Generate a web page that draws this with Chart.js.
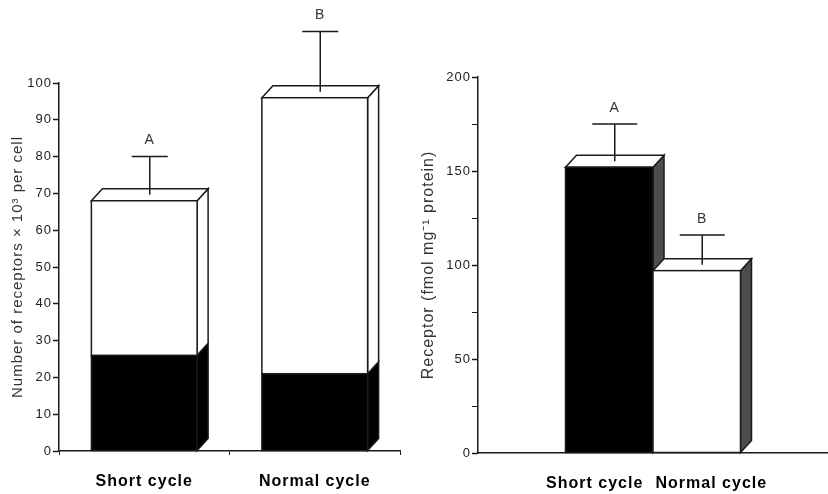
<!DOCTYPE html>
<html lang="en">
<head>
    <meta charset="UTF-8">
    <title>Receptors: short vs normal cycle</title>
    <script src="https://cdn.jsdelivr.net/npm/chart.js"></script>
    <style>
        body {
            margin: 0;
            background: #fff;
        }
        .panel {
            position: absolute;
            top: 0;
        }
        #left { left: 0; }
        #right { left: 410px; }
    </style>
</head>
<body>
    <canvas id="left" class="panel" width="410" height="494"></canvas>
    <canvas id="right" class="panel" width="418" height="494"></canvas>

    <script>
        // Left panel: receptors per cell (stacked, black part + white part)
        const leftCategories = ['Short cycle', 'Normal cycle'];
        const leftBlack = [26, 21];
        const leftWhite = [42, 75];
        const leftError = [80, 114];
        const leftLetters = ['A', 'B'];
        const leftTicks = [0, 5, 10, 15, 20, 25, 30, 35, 40, 45, 50, 55, 60, 65, 70, 75, 80, 85, 90, 95, 100];
        const leftTickLabels = [0, 10, 20, 30, 40, 50, 60, 70, 80, 90, 100];

        // Right panel: receptor concentration
        const rightCategories = ['Short cycle', 'Normal cycle'];
        const rightValues = [152, 97];
        const rightError = [175, 116];
        const rightLetters = ['A', 'B'];
        const rightTicks = [0, 25, 50, 75, 100, 125, 150, 175, 200];
        const rightTickLabels = [0, 50, 100, 150, 200];

        const FONT = "'Liberation Sans', Arial, sans-serif";
        const INK = '#1a1a1a';
        const DX = 11, DY = 12;   // depth of the 3D boxes

        function poly(ctx, pts, fill) {
            ctx.beginPath();
            ctx.moveTo(pts[0][0], pts[0][1]);
            for (let k = 1; k < pts.length; k++) ctx.lineTo(pts[k][0], pts[k][1]);
            ctx.closePath();
            ctx.fillStyle = fill;
            ctx.fill();
            ctx.stroke();
        }

        // draws side + top faces, then the error bar and letter
        const box3d = {
            id: 'box3d',
            beforeLayout(chart) { chart.ctx.letterSpacing = '1px'; },
            beforeDraw(chart) { chart.ctx.letterSpacing = '1px'; },
            afterDatasetsDraw(chart, args, o) {
                const ctx = chart.ctx;
                const yScale = chart.scales.y;
                ctx.save();
                ctx.lineWidth = 1.5;
                ctx.strokeStyle = INK;
                ctx.lineJoin = 'miter';
                chart.data.labels.forEach((lab, j) => {
                    const segs = [];
                    chart.data.datasets.forEach((ds, i) => {
                        if (ds.data[j] == null) return;
                        const el = chart.getDatasetMeta(i).data[j];
                        const p = el.getProps(['x', 'y', 'base', 'width'], true);
                        const fill = Array.isArray(ds.backgroundColor) ? ds.backgroundColor[j] : ds.backgroundColor;
                        segs.push({
                            l: p.x - p.width / 2, r: p.x + p.width / 2,
                            t: Math.min(p.y, p.base), b: Math.max(p.y, p.base),
                            fill: fill, side: o.side === 'same' ? fill : o.side
                        });
                    });
                    if (!segs.length) return;
                    segs.forEach(s => poly(ctx, [[s.r, s.b], [s.r + DX, s.b - DY], [s.r + DX, s.t - DY], [s.r, s.t]], s.side));
                    const top = segs[segs.length - 1];
                    poly(ctx, [[top.l, top.t], [top.l + DX, top.t - DY], [top.r + DX, top.t - DY], [top.r, top.t]], '#fff');
                    segs.forEach(s => {
                        ctx.fillStyle = s.fill;
                        ctx.fillRect(s.l, s.t, s.r - s.l, s.b - s.t);
                        ctx.strokeRect(s.l, s.t, s.r - s.l, s.b - s.t);
                    });
                    const err = o.error[j];
                    if (err == null) return;
                    const cx = (top.l + top.r) / 2 + DX / 2;
                    const ey = yScale.getPixelForValue(err);
                    ctx.beginPath();
                    ctx.moveTo(cx, top.t - DY / 2);
                    ctx.lineTo(cx, ey);
                    ctx.moveTo(cx - o.cap / 2, ey);
                    ctx.lineTo(cx + o.cap / 2, ey);
                    ctx.stroke();
                    ctx.fillStyle = '#333';
                    ctx.font = '14px ' + FONT;
                    ctx.textAlign = 'center';
                    ctx.textBaseline = 'middle';
                    ctx.fillText(o.letters[j], cx, ey - 16);
                });
                ctx.restore();
            }
        };

        function yAxis(max, ticks, labels, title, width, titleSize) {
            return {
                min: 0,
                max: max,
                stacked: true,
                afterFit: s => { s.width = width; },
                afterBuildTicks: s => { s.ticks = ticks.map(v => ({ value: v })); },
                border: { color: INK, width: 1.5 },
                grid: {
                    drawOnChartArea: false,
                    tickLength: 6,
                    tickColor: INK,
                    tickWidth: c => (c.tick && labels.includes(c.tick.value)) ? 1.5 : 1
                },
                ticks: {
                    color: '#222',
                    padding: 1,
                    font: { family: FONT, size: 13 },
                    callback: v => labels.includes(v) ? String(v) : ''
                },
                title: {
                    display: true,
                    text: title,
                    color: '#333',
                    padding: { top: 9, bottom: 0 },
                    font: { family: FONT, size: titleSize }
                }
            };
        }

        const xTicks = {
            color: '#000',
            padding: 17,
            autoSkip: false,
            maxRotation: 0,
            font: { family: FONT, size: 16, weight: 'bold' }
        };

        // keep the x axis running the full plot width
        function xFit(height) {
            return s => { s.height = height; s.paddingLeft = 0; s.paddingRight = 0; };
        }

        new Chart(document.getElementById('left'), {
            type: 'bar',
            data: {
                labels: leftCategories,
                datasets: [
                    { data: leftBlack, backgroundColor: '#000', borderWidth: 0, barPercentage: 0.62, categoryPercentage: 1 },
                    { data: leftWhite, backgroundColor: '#fff', borderWidth: 0, barPercentage: 0.62, categoryPercentage: 1 }
                ]
            },
            options: {
                responsive: false,
                animation: false,
                layout: { padding: { top: 83, right: 10, left: 0, bottom: 0 } },
                plugins: {
                    legend: { display: false },
                    tooltip: { enabled: false },
                    box3d: { side: 'same', error: leftError, letters: leftLetters, cap: 36 }
                },
                scales: {
                    x: {
                        stacked: true,
                        offset: true,
                        afterFit: xFit(43),
                        border: { color: INK, width: 1.5 },
                        grid: { offset: true, drawOnChartArea: false, tickLength: 4, tickColor: INK, tickWidth: 1 },
                        ticks: xTicks
                    },
                    y: yAxis(100, leftTicks, leftTickLabels, 'Number of receptors \u00d7 10\u00b3 per cell', 59, 15)
                }
            },
            plugins: [box3d]
        });

        // pad the right panel with empty slots so the two bars sit side by side
        const rightSlots = ['', ...rightCategories, ''];
        new Chart(document.getElementById('right'), {
            type: 'bar',
            data: {
                labels: rightSlots,
                datasets: [{
                    data: [null, ...rightValues, null],
                    backgroundColor: ['#fff', '#000', '#fff', '#fff'],
                    borderWidth: 0,
                    barPercentage: 1,
                    categoryPercentage: 1,
                    xAxisID: 'xb'
                }]
            },
            options: {
                responsive: false,
                animation: false,
                layout: { padding: { top: 77, right: 0, left: 0, bottom: 0 } },
                plugins: {
                    legend: { display: false },
                    tooltip: { enabled: false },
                    box3d: { side: '#4d4d4d', error: [null, ...rightError, null], letters: ['', ...rightLetters, ''], cap: 45 }
                },
                scales: {
                    xb: { type: 'category', offset: true, display: false, afterFit: xFit(0) },
                    x: {
                        type: 'category',
                        offset: false,
                        afterFit: xFit(41),
                        border: { color: INK, width: 1.5 },
                        grid: { offset: false, drawOnChartArea: false, tickLength: 4, tickColor: 'rgba(0,0,0,0)' },
                        ticks: xTicks
                    },
                    y: yAxis(200, rightTicks, rightTickLabels, 'Receptor (fmol mg\u207b\u00b9 protein)', 68, 16)
                }
            },
            plugins: [box3d]
        });
    </script>
</body>
</html>
